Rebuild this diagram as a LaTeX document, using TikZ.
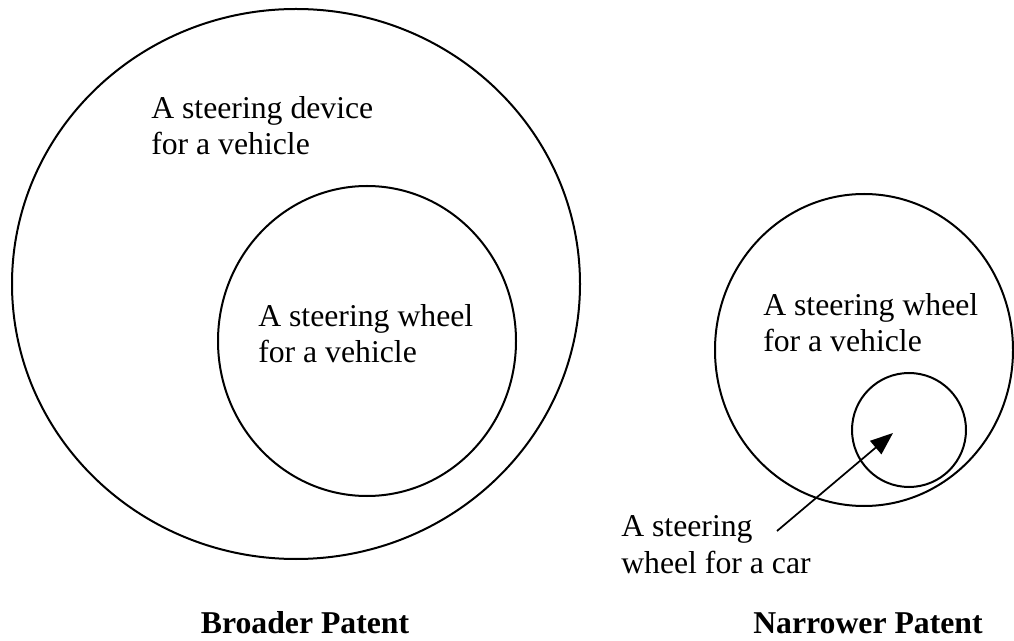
\documentclass[tikz,border=0pt]{standalone}
\usepackage{fontspec}
\setmainfont{Liberation Serif}
\usetikzlibrary{arrows.meta}
\tikzset{
  ring/.style={line width=1.5pt},
  claim/.style={font=\fontsize{23.8}{27.6}\selectfont,align=left,inner sep=0pt,anchor=base west},
  title/.style={font=\fontsize{23.8}{27.6}\selectfont\bfseries,inner sep=0pt,anchor=base},
  pointer/.style={-{Triangle[length=17pt,width=13pt]},line width=1.3pt}
}
\def\srad{57}

\begin{document}
\begin{tikzpicture}[x=0.75pt,y=-0.75pt]
  \useasboundingbox (0,0) rectangle (1014,641);

  % Broader patent
  \coordinate (device) at (296,284);
  \coordinate (wheel) at (367,341);
  \draw[ring] (device) ellipse (284 and 275);
  \draw[ring] (wheel) ellipse (149 and 155);
  \node[claim] (devtext) at (151,155) {A steering device\\for a vehicle};
  \node[claim] (wheeltext) at (258,363) {A steering wheel\\for a vehicle};
  \node[title] (broader) at (305,633) {Broader Patent};

  % Narrower patent
  \coordinate (nwheel) at (864,350);
  \coordinate (car) at (909,430);
  \draw[ring] (nwheel) ellipse (149 and 156);
  \draw[ring] (car) circle (\srad);
  \node[claim] (nwheeltext) at (763,352) {A steering wheel\\for a vehicle};
  \node[claim] (cartext) at (621,573) {A steering\\wheel for a car};
  \node[title] (narrower) at (868,633) {Narrower Patent};

  % Pointer
  \coordinate (tail) at (777,531);
  \coordinate (tip) at (893,433);
  \draw[pointer] (tail) -- (tip);
\end{tikzpicture}
\end{document}
